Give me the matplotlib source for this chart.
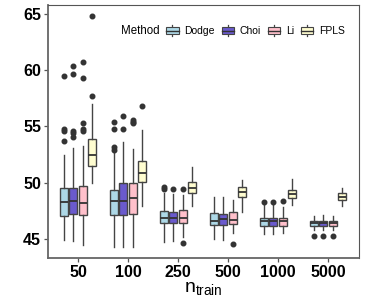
import matplotlib
matplotlib.use("Agg")
import matplotlib.pyplot as plt
from matplotlib.patches import Rectangle
from matplotlib.lines import Line2D
from matplotlib.legend_handler import HandlerBase

plt.rcParams['font.family'] = ['Liberation Sans', 'DejaVu Sans']

# training sizes (categories on the x axis)
n_train = ["50", "100", "250", "500", "1000", "5000"]
methods = ["Dodge", "Choi", "Li", "FPLS"]
colors = ["#ADD8E6", "#6A5ACD", "#FFC0CB", "#FFFDD0"]

# box statistics, one list per method (over n_train)
q1 = {
    "Dodge": [47.0, 47.1, 46.4, 46.25, 46.15, 46.15],
    "Choi":  [47.2, 47.1, 46.4, 46.25, 46.15, 46.15],
    "Li":    [47.1, 47.2, 46.4, 46.3, 46.15, 46.15],
    "FPLS":  [51.5, 50.1, 49.05, 48.7, 48.6, 48.45],
}
med = {
    "Dodge": [48.25, 48.4, 46.9, 46.6, 46.55, 46.45],
    "Choi":  [48.4, 48.4, 46.9, 46.75, 46.55, 46.45],
    "Li":    [48.2, 48.6, 46.9, 46.65, 46.55, 46.45],
    "FPLS":  [52.5, 50.9, 49.55, 49.15, 48.95, 48.75],
}
q3 = {
    "Dodge": [49.5, 49.35, 47.5, 47.3, 46.9, 46.6],
    "Choi":  [49.5, 49.95, 47.4, 47.2, 46.9, 46.6],
    "Li":    [49.7, 50.0, 47.6, 47.4, 46.9, 46.6],
    "FPLS":  [53.9, 51.9, 50.1, 49.65, 49.35, 49.05],
}
whis_lo = {
    "Dodge": [44.9, 44.3, 44.7, 45.0, 45.45, 45.75],
    "Choi":  [44.85, 44.3, 44.8, 44.9, 45.4, 45.75],
    "Li":    [44.5, 44.25, 45.2, 45.5, 45.5, 45.75],
    "FPLS":  [50.0, 47.9, 47.9, 47.4, 48.0, 47.9],
}
whis_hi = {
    "Dodge": [52.5, 52.75, 49.05, 48.7, 48.0, 47.05],
    "Choi":  [53.1, 53.65, 49.0, 48.7, 48.0, 47.1],
    "Li":    [53.3, 52.95, 48.9, 48.5, 47.8, 47.05],
    "FPLS":  [57.0, 54.7, 51.4, 50.2, 50.3, 49.5],
}
outliers = {
    "Dodge": [[59.5, 54.8, 54.6, 53.7], [55.4, 54.8, 53.2, 52.9], [49.6, 49.4], [], [48.3], [45.3]],
    "Choi":  [[60.4, 59.7, 54.6, 54.4, 54.1], [55.9, 54.8], [49.45], [], [48.3], [45.3]],
    "Li":    [[60.7, 59.3, 55.3, 54.75, 54.6], [55.6, 55.4, 55.3], [49.4, 44.6], [44.55], [48.4], [45.3]],
    "FPLS":  [[64.8, 57.7], [56.8], [], [], [], []],
}

edge = "#444444"

fig = plt.figure(figsize=(3.66, 3.05), dpi=100)
ax = fig.add_axes([0.131, 0.154, 0.85, 0.83])

offsets = [-0.28, -0.094, 0.094, 0.28]
for k, m in enumerate(methods):
    stats = []
    for i in range(len(n_train)):
        stats.append(dict(q1=q1[m][i], med=med[m][i], q3=q3[m][i],
                          whislo=whis_lo[m][i], whishi=whis_hi[m][i],
                          fliers=outliers[m][i]))
    pos = [i + offsets[k] for i in range(len(n_train))]
    bp = ax.bxp(stats, positions=pos, widths=0.165, patch_artist=True,
                showcaps=False, manage_ticks=False,
                boxprops=dict(facecolor=colors[k], edgecolor=edge, linewidth=1.0),
                medianprops=dict(color="#333333", linewidth=1.3),
                whiskerprops=dict(color=edge, linewidth=1.0),
                flierprops=dict(marker="o", markerfacecolor="#333333",
                                markeredgecolor="#333333", markersize=3.3))

ax.set_xlim(-0.6, 5.62)
ax.set_ylim(43.3, 65.8)
ax.set_xticks(range(len(n_train)))
ax.set_xticklabels(n_train)
ax.set_yticks([45, 50, 55, 60, 65])
for lab in ax.get_xticklabels() + ax.get_yticklabels():
    lab.set_fontweight("bold")
    lab.set_fontsize(11.5)
ax.tick_params(axis="both", length=3, width=0.9, color="#555555", pad=2)
for s in ["left", "bottom"]:
    ax.spines[s].set_color("#666666")
    ax.spines[s].set_linewidth(1.3)
for s in ["top", "right"]:
    ax.spines[s].set_color("#555555")
    ax.spines[s].set_linewidth(0.8)
ax.set_xlabel(r"$\mathregular{n_{train}}$", fontsize=14, labelpad=0)


class BoxKey(HandlerBase):
    def create_artists(self, legend, orig, xd, yd, w, h, fontsize, trans):
        x0, y0 = -xd, -yd
        cx = x0 + w / 2
        wl = Line2D([cx, cx], [y0 - h * 0.1, y0 + h * 1.1], color=edge, lw=0.9, transform=trans)
        r = Rectangle((x0, y0 + h * 0.1), w, h * 0.8, facecolor=orig.get_facecolor(),
                      edgecolor=edge, lw=0.8, transform=trans)
        ml = Line2D([x0, x0 + w], [y0 + h / 2] * 2, color="#333333", lw=1.0, transform=trans)
        return [wl, r, ml]


handles = [Rectangle((0, 0), 1, 1, facecolor=c) for c in colors]
fig.text(121 / 366, 0.898, "Method", fontsize=8.3, va="center", ha="left")
fig.legend(handles, methods, handler_map={Rectangle: BoxKey()}, ncol=4,
           loc="center left", bbox_to_anchor=(166 / 366, 0.898), frameon=False,
           fontsize=7.5, handlelength=1.2, handleheight=0.9, columnspacing=0.65,
           handletextpad=0.55, borderpad=0, borderaxespad=0)

fig.savefig("out.png", dpi=100)
